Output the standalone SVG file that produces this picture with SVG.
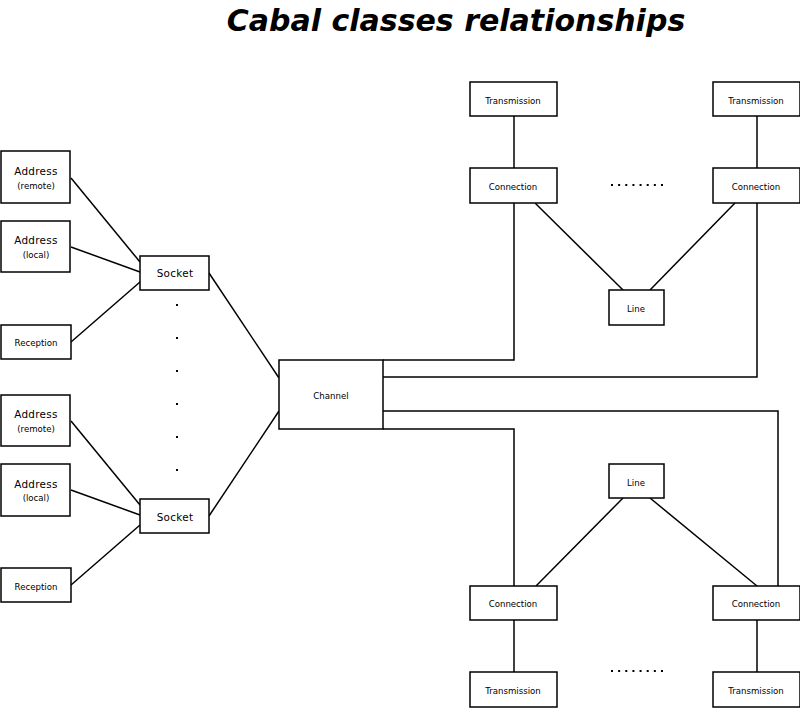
<svg xmlns="http://www.w3.org/2000/svg" width="800" height="708" viewBox="0 0 800 708">
<style>
rect{fill:#fff;stroke:#000;stroke-width:1.5}
rect.dot{fill:#000;stroke:none}
text{font-family:"DejaVu Sans",sans-serif;text-anchor:middle;fill:#000}
.s{font-size:8.6px}
.m{font-size:10.4px;letter-spacing:0.3px}
.c line,.c polyline{stroke:#000;stroke-width:1.5;fill:none}
.dl{stroke:#000;stroke-width:2;stroke-dasharray:2,5.14}
</style>
<rect x="0" y="0" width="800" height="708" style="stroke:none"/>
<text x="456" y="31" style="font-size:30px;font-weight:bold;font-style:italic">Cabal classes relationships</text>
<g class="c">
<line x1="71" y1="178" x2="140" y2="262"/>
<line x1="71" y1="247" x2="140" y2="272"/>
<line x1="71" y1="342" x2="140" y2="282"/>
<line x1="71" y1="421" x2="140" y2="505"/>
<line x1="71" y1="490" x2="140" y2="515"/>
<line x1="71" y1="585" x2="140" y2="525"/>
<line x1="209" y1="273" x2="279" y2="378"/>
<line x1="209" y1="516" x2="279" y2="411"/>
<polyline points="383,360 514,360 514,203"/>
<polyline points="383,377 757,377 757,203"/>
<polyline points="383,411 778,411 778,586"/>
<polyline points="383,429 514,429 514,586"/>
<line x1="514" y1="116" x2="514" y2="168"/>
<line x1="757" y1="116" x2="757" y2="168"/>
<line x1="514" y1="620" x2="514" y2="672"/>
<line x1="757" y1="620" x2="757" y2="672"/>
<line x1="535" y1="203" x2="623" y2="290"/>
<line x1="735" y1="203" x2="650" y2="290"/>
<line x1="623" y1="498" x2="536" y2="586"/>
<line x1="650" y1="498" x2="757" y2="586"/>
</g>
<g id="dots">
<rect class="dot" x="176" y="304" width="2" height="2"/>
<rect class="dot" x="176" y="337" width="2" height="2"/>
<rect class="dot" x="176" y="370" width="2" height="2"/>
<rect class="dot" x="176" y="403" width="2" height="2"/>
<rect class="dot" x="176" y="436" width="2" height="2"/>
<rect class="dot" x="176" y="469" width="2" height="2"/>
<line class="dl" x1="611" y1="185" x2="663" y2="185"/>
<line class="dl" x1="611" y1="671" x2="663" y2="671"/>
</g>
<g id="addr-remote-1"><rect x="1" y="151" width="69" height="52"/><text class="m" x="36" y="175">Address</text><text class="s" x="36" y="189">(remote)</text></g>
<g id="addr-local-1"><rect x="1" y="221" width="69" height="51"/><text class="m" x="36" y="244">Address</text><text class="s" x="36" y="258">(local)</text></g>
<g id="reception-1"><rect x="1" y="325" width="70" height="34"/><text class="s" x="36" y="346">Reception</text></g>
<g id="socket-1"><rect x="140" y="256" width="69" height="34"/><text class="m" x="175" y="277">Socket</text></g>
<g id="addr-remote-2"><rect x="1" y="395" width="69" height="51"/><text class="m" x="36" y="418">Address</text><text class="s" x="36" y="432">(remote)</text></g>
<g id="addr-local-2"><rect x="1" y="464" width="69" height="52"/><text class="m" x="36" y="488">Address</text><text class="s" x="36" y="501">(local)</text></g>
<g id="reception-2"><rect x="1" y="568" width="70" height="34"/><text class="s" x="36" y="590">Reception</text></g>
<g id="socket-2"><rect x="140" y="499" width="69" height="34"/><text class="m" x="175" y="521">Socket</text></g>
<g id="channel"><rect x="279" y="360" width="104" height="69"/><text class="s" x="331" y="399">Channel</text></g>
<g id="transmission-tl"><rect x="470" y="82" width="87" height="34"/><text class="s" x="513" y="104">Transmission</text></g>
<g id="connection-tl"><rect x="470" y="168" width="87" height="35"/><text class="s" x="513" y="190">Connection</text></g>
<g id="transmission-tr"><rect x="713" y="82" width="87" height="34"/><text class="s" x="756" y="104">Transmission</text></g>
<g id="connection-tr"><rect x="713" y="168" width="87" height="35"/><text class="s" x="756" y="190">Connection</text></g>
<g id="line-top"><rect x="609" y="290" width="55" height="35"/><text class="s" x="636" y="312">Line</text></g>
<g id="line-bottom"><rect x="609" y="464" width="55" height="34"/><text class="s" x="636" y="486">Line</text></g>
<g id="connection-bl"><rect x="470" y="586" width="87" height="34"/><text class="s" x="513" y="607">Connection</text></g>
<g id="transmission-bl"><rect x="470" y="672" width="87" height="35"/><text class="s" x="513" y="694">Transmission</text></g>
<g id="connection-br"><rect x="713" y="586" width="87" height="34"/><text class="s" x="756" y="607">Connection</text></g>
<g id="transmission-br"><rect x="713" y="672" width="87" height="35"/><text class="s" x="756" y="694">Transmission</text></g>
</svg>
